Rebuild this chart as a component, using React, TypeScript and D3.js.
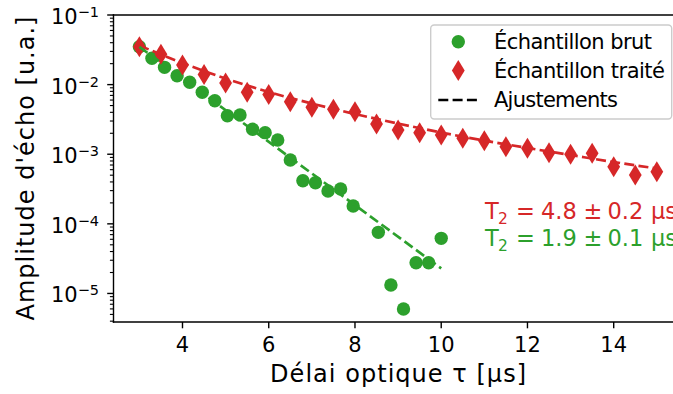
import React from 'react';
import * as d3 from 'd3';

const W = 673;
const H = 394;

// ---- data ----
const greenX = [3, 3.2917, 3.5833, 3.875, 4.1667, 4.4583, 4.75, 5.0417, 5.3333, 5.625, 5.9167, 6.2083, 6.5, 6.7917, 7.0833, 7.375, 7.6667, 7.9583, 8.25, 8.5417, 8.8333, 9.125, 9.4167, 9.7083, 10];
const greenY: (number | null)[] = [0.0350, 0.0239, 0.0177, 0.0134, 0.0108, 0.00775, 0.00587, 0.00357, 0.00366, 0.00228, 0.00204, 0.0016, 0.000825, 0.000416, 0.00039, 0.000296, 0.000316, 0.00018, null, 7.55e-5, 1.32e-5, 5.97e-6, 2.76e-5, 2.76e-5, 6.19e-5];

const redX = [3, 3.5, 4, 4.5, 5, 5.5, 6, 6.5, 7, 7.5, 8, 8.5, 9, 9.5, 10, 10.5, 11, 11.5, 12, 12.5, 13, 13.5, 14, 14.5, 15];
const redY = [0.0350, 0.0273, 0.0191, 0.0140, 0.01054, 0.00778, 0.00721, 0.00568, 0.00472, 0.00442, 0.00408, 0.00272, 0.00223, 0.00204, 0.00189, 0.00169, 0.00156, 0.00128, 0.00122, 0.00105, 0.000997, 0.00103, 0.000661, 0.000503, 0.000561];

const redFitX = [3, 4, 5, 6, 7, 8, 9, 10, 11, 12, 13, 14, 15];
const redFitY = [0.03645, 0.02043, 0.01224, 0.00783, 0.00535, 0.00378, 0.00276, 0.00205, 0.00157, 0.00123, 0.000974, 0.000772, 0.000623];

const greenFitX = [3, 10];
const greenFitY = [0.0349, 2.29e-5];

const xTicks = [4, 6, 8, 10, 12, 14];
const yTickExps = [-1, -2, -3, -4, -5];

const legendLabels = ['Échantillon brut', 'Échantillon traité', 'Ajustements'];
const annRed = ['T', '2', '=', '4.8', '±', '0.2', 'μs'];
const annGreen = ['T', '2', '=', '1.9', '±', '0.1', 'μs'];

const GREEN = '#2ca02c';
const RED = '#d62728';
const FONT = 'DejaVu Sans, sans-serif';

const L = 113.5, R = 682.7, T = 15, B = 322;

// layout of annotation pieces (x offsets) and legend text widths
const annX = [485, 498, 516, 541, 583.5, 607.5, 651];
const legendWidths = [158, 171, 124];

export default function App() {
  const x = d3.scaleLinear().domain([2.4, 15.6]).range([L, R]);
  const y = d3.scaleLog().domain([Math.pow(10, -5.41), 0.1]).range([B, T]);

  const line = d3
    .line<[number, number]>()
    .x((d) => x(d[0]))
    .y((d) => y(d[1]));
  const smooth = d3
    .line<[number, number]>()
    .x((d) => x(d[0]))
    .y((d) => y(d[1]))
    .curve(d3.curveMonotoneX);

  const redFit = redFitX.map((v, i) => [v, redFitY[i]] as [number, number]);
  const greenFit = greenFitX.map((v, i) => [v, greenFitY[i]] as [number, number]);

  const minor: number[] = [];
  for (let e = -6; e <= -2; e++) {
    for (let m = 2; m <= 9; m++) {
      const v = m * Math.pow(10, e);
      if (v >= y.domain()[0] && v <= y.domain()[1]) minor.push(v);
    }
  }

  const diamond = (cx: number, cy: number) =>
    `M${cx},${cy - 10.5}L${cx + 6.4},${cy}L${cx},${cy + 10.5}L${cx - 6.4},${cy}Z`;

  const dash = '10,4.3';

  const ann = (parts: string[], yy: number, color: string) => (
    <g fill={color}>
      {parts.map((p, i) => (
        <text key={i} x={annX[i]} y={i === 1 ? yy + 5 : yy} fontSize={i === 1 ? 15.5 : 22.5}>
          {p}
        </text>
      ))}
    </g>
  );

  return (
    <svg
      width={W}
      height={H}
      style={{ position: 'absolute', left: 0, top: 0, background: '#fff' }}
      fontFamily={FONT}
    >
      <rect x={0} y={0} width={W} height={H} fill="#fff" />

      {greenX.map((v, i) =>
        greenY[i] == null ? null : (
          <circle key={'g' + i} cx={x(v)} cy={y(greenY[i] as number)} r={6.7} fill={GREEN} />
        )
      )}
      {redX.map((v, i) => (
        <path key={'r' + i} d={diamond(x(v), y(redY[i]))} fill={RED} />
      ))}

      <path d={smooth(redFit) || ''} fill="none" stroke={RED} strokeWidth={2.7} strokeDasharray={dash} />
      <path d={line(greenFit) || ''} fill="none" stroke={GREEN} strokeWidth={2.7} strokeDasharray={dash} />

      <line x1={L} x2={L} y1={T} y2={B} stroke="#000" strokeWidth={1.4} strokeLinecap="square" />
      <line x1={L} x2={R} y1={B} y2={B} stroke="#000" strokeWidth={1.4} strokeLinecap="square" />
      <line x1={L} x2={R} y1={T} y2={T} stroke="#000" strokeWidth={1.4} strokeLinecap="square" />
      <line x1={R} x2={R} y1={T} y2={B} stroke="#000" strokeWidth={1.4} />

      {xTicks.map((t) => (
        <g key={'xt' + t}>
          <line x1={x(t)} x2={x(t)} y1={B} y2={B + 6.3} stroke="#000" strokeWidth={1.4} />
          <text x={x(t)} y={B + 29.5} fontSize={21} textAnchor="middle" fill="#000">
            {t}
          </text>
        </g>
      ))}

      {minor.map((v, i) => (
        <line key={'ym' + i} x1={L - 3.6} x2={L} y1={y(v)} y2={y(v)} stroke="#000" strokeWidth={1.1} />
      ))}
      {yTickExps.map((e) => {
        const yy = y(Math.pow(10, e));
        return (
          <g key={'yt' + e}>
            <line x1={L - 6.3} x2={L} y1={yy} y2={yy} stroke="#000" strokeWidth={1.4} />
            <text x={99} y={yy + 9} fontSize={21} textAnchor="end" fill="#000">
              <tspan>10</tspan>
              <tspan dy={-7} fontSize={14.5}>
                {'\u2212' + Math.abs(e)}
              </tspan>
            </text>
          </g>
        );
      })}

      <text x={(L + R) / 2} y={382} fontSize={24} textAnchor="middle" fill="#000" textLength={256} lengthAdjust="spacing">
        Délai optique τ [μs]
      </text>
      <text
        transform={`translate(34,${(T + B) / 2}) rotate(-90)`}
        fontSize={24}
        textAnchor="middle"
        fill="#000"
        textLength={304}
        lengthAdjust="spacing"
      >
        Amplitude d'écho [u.a.]
      </text>

      <rect x={430.7} y={25} width={241} height={94} rx={3.5} fill="#fff" fillOpacity={0.8} stroke="#cccccc" strokeWidth={1.4} />
      <circle cx={458.3} cy={41.7} r={6.7} fill={GREEN} />
      <path d={diamond(458.3, 70.5)} fill={RED} />
      <line x1={438.3} x2={478.3} y1={100} y2={100} stroke="#000" strokeWidth={2.7} strokeDasharray={dash} />
      {legendLabels.map((s, i) => (
        <text key={'lg' + i} x={494} y={48.5 + i * 29.3} fontSize={21} fill="#000" textLength={legendWidths[i]} lengthAdjust="spacing">
          {s}
        </text>
      ))}

      {ann(annRed, 219.3, RED)}
      {ann(annGreen, 246, GREEN)}
    </svg>
  );
}
